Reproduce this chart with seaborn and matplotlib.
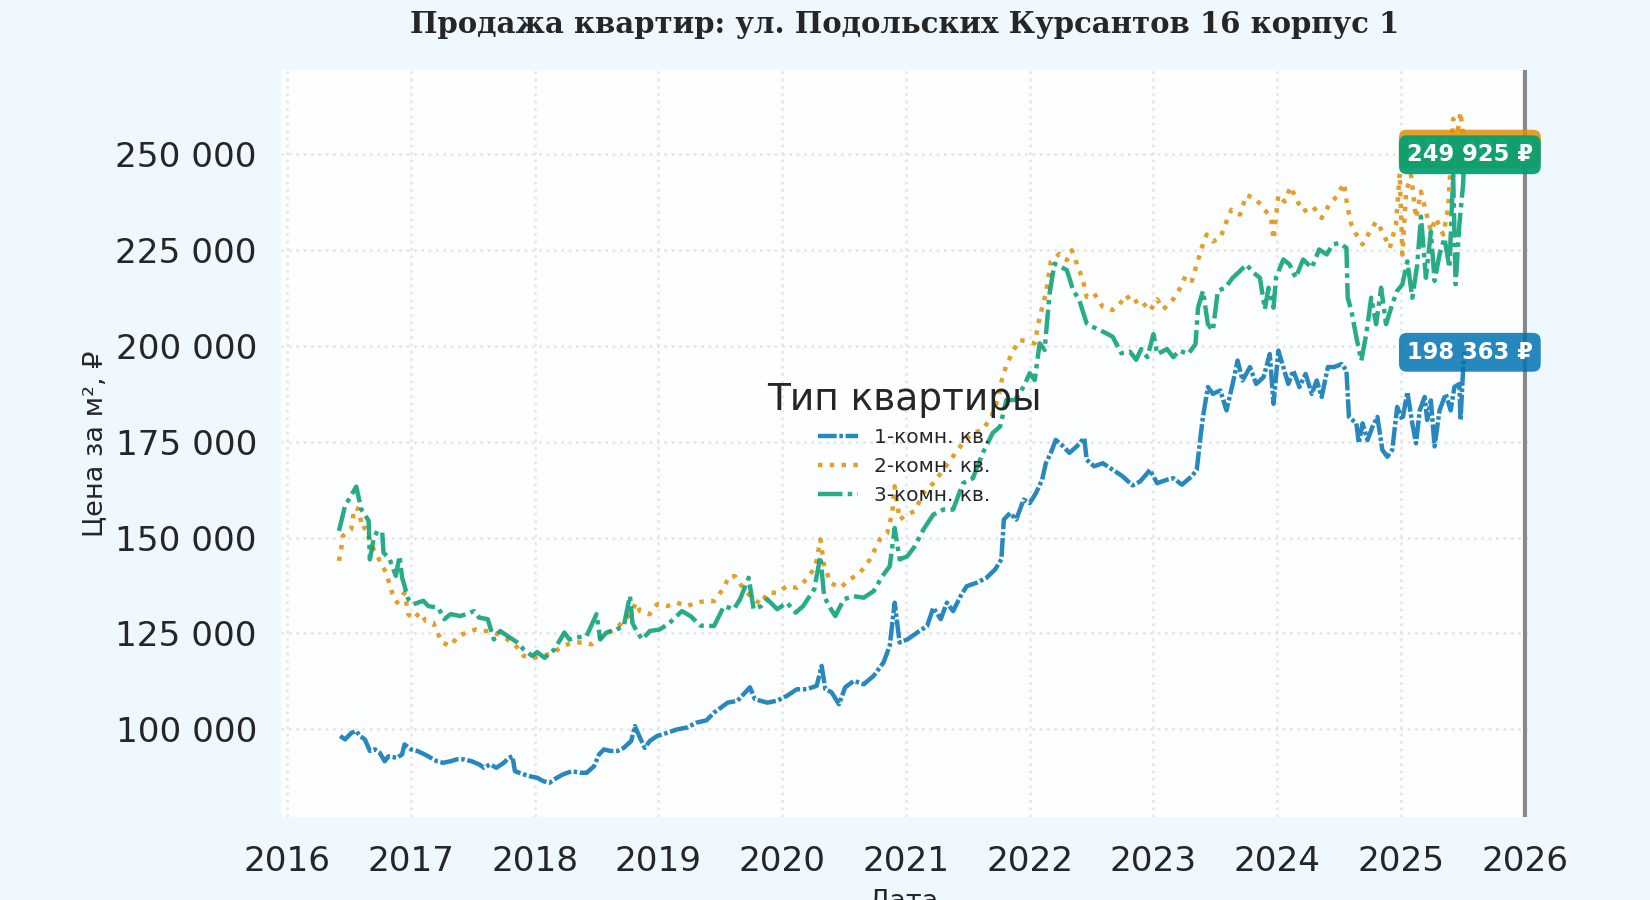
import numpy as np
import pandas as pd
import matplotlib
matplotlib.use("Agg")
import matplotlib.pyplot as plt
import matplotlib.dates as mdates
from matplotlib.ticker import FuncFormatter, MultipleLocator
import seaborn as sns

# ---------------- data (decimal year, price per m2) ----------------
types = ["1-комн. кв.", "2-комн. кв.", "3-комн. кв."]

t_1k = [2016.43, 2016.47, 2016.52, 2016.56, 2016.59, 2016.63, 2016.67, 2016.71, 2016.75, 2016.79,
        2016.82, 2016.89, 2016.93, 2016.95, 2017.00, 2017.05, 2017.11, 2017.16, 2017.21, 2017.26,
        2017.32, 2017.37, 2017.43, 2017.49, 2017.55, 2017.59, 2017.64, 2017.69, 2017.75, 2017.79,
        2017.82, 2017.84, 2017.91, 2017.96, 2018.02, 2018.07, 2018.12, 2018.18, 2018.23, 2018.30,
        2018.37, 2018.42, 2018.48, 2018.52, 2018.56, 2018.61, 2018.67, 2018.72, 2018.78, 2018.81,
        2018.85, 2018.89, 2018.93, 2018.99, 2019.07, 2019.15, 2019.23, 2019.31, 2019.39, 2019.45,
        2019.56, 2019.64, 2019.74, 2019.78, 2019.88, 2019.96, 2020.04, 2020.12, 2020.20, 2020.28,
        2020.32, 2020.35, 2020.40, 2020.46, 2020.51, 2020.58, 2020.66, 2020.74, 2020.82, 2020.87,
        2020.91, 2020.95, 2021.01, 2021.09, 2021.17, 2021.22, 2021.28, 2021.33, 2021.38, 2021.44,
        2021.49, 2021.57, 2021.65, 2021.72, 2021.77, 2021.79, 2021.84, 2021.89, 2021.95, 2022.00,
        2022.05, 2022.10, 2022.13, 2022.17, 2022.21, 2022.27, 2022.32, 2022.38, 2022.44, 2022.46,
        2022.52, 2022.59, 2022.67, 2022.75, 2022.83, 2022.89, 2022.95, 2022.97, 2023.03, 2023.11,
        2023.16, 2023.23, 2023.31, 2023.35, 2023.38, 2023.40, 2023.44, 2023.48, 2023.54, 2023.59,
        2023.64, 2023.68, 2023.72, 2023.78, 2023.83, 2023.89, 2023.94, 2023.97, 2024.01, 2024.05,
        2024.09, 2024.13, 2024.18, 2024.23, 2024.28, 2024.32, 2024.36, 2024.41, 2024.46, 2024.52,
        2024.56, 2024.58, 2024.64, 2024.66, 2024.69, 2024.73, 2024.77, 2024.81, 2024.85, 2024.89,
        2024.93, 2024.97, 2025.01, 2025.05, 2025.09, 2025.12, 2025.15, 2025.19, 2025.21, 2025.24,
        2025.27, 2025.31, 2025.36, 2025.40, 2025.43, 2025.47, 2025.48, 2025.50, 2025.51]
p_1k = [98200, 97300, 99000, 99500, 98200, 97300, 94300, 94700, 93800, 91600,
        92900, 92500, 93400, 96000, 94700, 94300, 93400, 92500, 91600, 91200,
        91600, 92100, 92100, 91600, 90800, 89900, 90800, 89900, 91200, 92500,
        92900, 89000, 88200, 87700, 87300, 86400, 86000, 87300, 88200, 89000,
        88600, 88600, 90300, 93400, 94700, 94300, 94300, 95100, 96900, 100800,
        97800, 95100, 96900, 98200, 99000, 99900, 100400, 101700, 102300, 104300,
        106900, 107400, 110900, 107800, 106900, 107400, 108700, 110400, 110400, 111300,
        116500, 110400, 109600, 106500, 110900, 112600, 111700, 113900, 117400, 121700,
        133000, 122600, 123400, 125200, 126900, 131700, 128700, 133000, 130800, 134700,
        137300, 138200, 139500, 141700, 144300, 154700, 156400, 154700, 159900, 159000,
        161600, 165100, 169400, 172100, 175500, 173800, 172100, 173800, 176000, 170300,
        168600, 169400, 167700, 166000, 163600, 164600, 166800, 167700, 164200, 165100,
        165500, 163800, 166000, 167700, 176300, 181500, 189300, 187500, 188400, 183200,
        190100, 196200, 191000, 194500, 190100, 191900, 197900, 184900, 198800, 194500,
        190100, 193600, 189300, 192700, 187500, 191000, 186700, 194500, 194500, 195300,
        193600, 181500, 179800, 174600, 179800, 175400, 178900, 181500, 172900, 171100,
        172900, 184100, 180700, 188000, 179800, 174600, 183200, 186700, 180700, 185800,
        173800, 183200, 187500, 183200, 189300, 190100, 180700, 193600, 198363]

t_2k = [2016.42, 2016.44, 2016.45, 2016.52, 2016.53, 2016.55, 2016.58, 2016.61, 2016.63, 2016.68,
        2016.75, 2016.80, 2016.85, 2016.89, 2016.95, 2016.98, 2017.02, 2017.07, 2017.12, 2017.18,
        2017.25, 2017.32, 2017.38, 2017.45, 2017.52, 2017.57, 2017.64, 2017.71, 2017.78, 2017.86,
        2017.91, 2017.99, 2018.07, 2018.15, 2018.23, 2018.31, 2018.39, 2018.46, 2018.53, 2018.62,
        2018.69, 2018.77, 2018.82, 2018.85, 2018.93, 2018.99, 2019.07, 2019.15, 2019.23, 2019.31,
        2019.39, 2019.45, 2019.53, 2019.57, 2019.62, 2019.69, 2019.77, 2019.83, 2019.88, 2019.96,
        2020.04, 2020.12, 2020.20, 2020.27, 2020.31, 2020.34, 2020.39, 2020.47, 2020.55, 2020.63,
        2020.71, 2020.79, 2020.85, 2020.89, 2020.91, 2020.95, 2021.01, 2021.07, 2021.14, 2021.22,
        2021.30, 2021.38, 2021.46, 2021.54, 2021.62, 2021.69, 2021.74, 2021.77, 2021.81, 2021.87,
        2021.92, 2021.99, 2022.04, 2022.08, 2022.13, 2022.17, 2022.24, 2022.30, 2022.34, 2022.38,
        2022.43, 2022.46, 2022.52, 2022.59, 2022.67, 2022.72, 2022.78, 2022.83, 2022.89, 2022.97,
        2023.03, 2023.08, 2023.16, 2023.21, 2023.26, 2023.31, 2023.35, 2023.39, 2023.43, 2023.48,
        2023.54, 2023.59, 2023.63, 2023.70, 2023.75, 2023.82, 2023.89, 2023.95, 2023.97, 2024.01,
        2024.06, 2024.11, 2024.15, 2024.21, 2024.29, 2024.36, 2024.42, 2024.48, 2024.54, 2024.57,
        2024.60, 2024.64, 2024.69, 2024.75, 2024.80, 2024.85, 2024.91, 2024.96, 2024.99, 2025.01,
        2025.04, 2025.08, 2025.12, 2025.16, 2025.20, 2025.24, 2025.28, 2025.34, 2025.38, 2025.42,
        2025.46, 2025.48, 2025.50, 2025.51]
p_2k = [143900, 147400, 150400, 152200, 154800, 157800, 157400, 152200, 152600, 148300,
        143900, 140900, 135600, 133000, 135600, 130000, 128700, 130400, 128200, 127800,
        122600, 121700, 124300, 125200, 126000, 125600, 125600, 124700, 123400, 121300,
        119100, 118600, 119100, 120000, 121700, 122600, 122600, 122100, 123900, 125600,
        127300, 130000, 133000, 130800, 130000, 132600, 132100, 133000, 132100, 133000,
        133500, 133400, 136900, 139900, 139900, 136500, 133900, 132600, 135600, 135600,
        137300, 136900, 139100, 142500, 149500, 143000, 138200, 136900, 139100, 140800,
        144300, 149500, 151200, 156400, 163400, 154700, 156000, 156900, 161600, 164200,
        167700, 171200, 174700, 177300, 178100, 181600, 185900, 190700, 195000, 199000,
        201600, 201100, 200700, 207600, 213700, 222000, 224100, 222400, 225000, 221500,
        217200, 212800, 213700, 210200, 209400, 210700, 213300, 211100, 212200, 209200,
        212200, 209600, 212200, 214800, 218300, 217000, 221300, 225600, 229100, 227300,
        228200, 232500, 235600, 234300, 239400, 238600, 236000, 233400, 227800, 239400,
        237700, 241600, 238600, 235100, 236400, 233400, 236900, 239000, 242500, 236000,
        231700, 229100, 226500, 229900, 232500, 229900, 225600, 231700, 245100, 223900,
        240300, 244600, 233400, 240300, 235100, 229900, 233400, 229100, 236000, 259300,
        256700, 261100, 255000, 251400]

t_3k = [2016.42, 2016.47, 2016.51, 2016.56, 2016.60, 2016.66, 2016.67, 2016.70, 2016.73, 2016.77,
        2016.78, 2016.83, 2016.88, 2016.91, 2016.93, 2016.95, 2016.98, 2017.02, 2017.10, 2017.14,
        2017.22, 2017.27, 2017.32, 2017.40, 2017.51, 2017.55, 2017.62, 2017.67, 2017.72, 2017.78,
        2017.86, 2017.91, 2017.98, 2018.02, 2018.08, 2018.16, 2018.24, 2018.28, 2018.34, 2018.42,
        2018.50, 2018.53, 2018.58, 2018.66, 2018.72, 2018.77, 2018.79, 2018.83, 2018.87, 2018.93,
        2019.01, 2019.09, 2019.19, 2019.26, 2019.34, 2019.45, 2019.53, 2019.61, 2019.66, 2019.73,
        2019.77, 2019.83, 2019.88, 2019.96, 2020.04, 2020.11, 2020.17, 2020.26, 2020.31, 2020.34,
        2020.38, 2020.43, 2020.50, 2020.58, 2020.66, 2020.74, 2020.81, 2020.87, 2020.91, 2020.95,
        2021.01, 2021.07, 2021.14, 2021.22, 2021.30, 2021.38, 2021.46, 2021.54, 2021.62, 2021.70,
        2021.76, 2021.81, 2021.88, 2021.95, 2022.00, 2022.04, 2022.08, 2022.12, 2022.16, 2022.20,
        2022.25, 2022.30, 2022.35, 2022.40, 2022.46, 2022.51, 2022.56, 2022.62, 2022.67, 2022.74,
        2022.81, 2022.86, 2022.90, 2022.95, 2023.00, 2023.03, 2023.11, 2023.16, 2023.21, 2023.28,
        2023.34, 2023.36, 2023.40, 2023.44, 2023.48, 2023.52, 2023.58, 2023.64, 2023.70, 2023.75,
        2023.81, 2023.86, 2023.90, 2023.93, 2023.97, 2023.99, 2024.05, 2024.10, 2024.15, 2024.21,
        2024.28, 2024.34, 2024.40, 2024.45, 2024.50, 2024.56, 2024.57, 2024.60, 2024.64, 2024.68,
        2024.72, 2024.76, 2024.80, 2024.84, 2024.88, 2024.93, 2024.97, 2025.01, 2025.05, 2025.09,
        2025.13, 2025.16, 2025.20, 2025.24, 2025.27, 2025.31, 2025.35, 2025.39, 2025.42, 2025.44,
        2025.47, 2025.50, 2025.51]
p_3k = [151750, 158300, 160500, 163300, 157400, 154400, 144300, 149600, 151700, 151300,
        146100, 144300, 140000, 145200, 139600, 137400, 133900, 132600, 133500, 132100,
        131700, 128700, 130000, 129500, 130800, 129100, 128700, 123400, 125600, 124300,
        122600, 120800, 119100, 120100, 118600, 120800, 125200, 123400, 123900, 124300,
        130000, 123400, 125200, 126000, 126900, 134800, 127700, 125200, 123400, 125600,
        126000, 127700, 130800, 129500, 127000, 126900, 132100, 131300, 133900, 139500,
        131300, 132100, 133900, 131300, 133000, 130400, 132100, 136500, 145100, 134700,
        132100, 129500, 133900, 134700, 134300, 136000, 139900, 142500, 152500, 144300,
        145100, 147700, 152100, 156000, 157300, 157300, 164200, 165500, 172100, 177300,
        179000, 185900, 185900, 189400, 192900, 191100, 200700, 199000, 213700, 221500,
        220700, 219800, 214600, 212000, 205900, 205000, 204200, 203300, 202400, 198100,
        198500, 196400, 199200, 197100, 203100, 197900, 199200, 197100, 198800, 197900,
        200500, 210000, 214400, 205700, 204000, 214400, 215200, 217800, 219600, 221300,
        219100, 217800, 209600, 215200, 210000, 217800, 222600, 221300, 217800, 222600,
        220400, 225200, 223900, 226500, 226900, 225600, 212600, 209200, 202300, 196200,
        203100, 212600, 205700, 215200, 205700, 210900, 214400, 216100, 222100, 212600,
        221300, 233800, 217800, 229900, 217000, 223900, 228200, 220400, 244600, 216100,
        231700, 242000, 249925]

colors = ["#0173b2", "#de8f05", "#029e73"]

title_text = "Продажа квартир: ул. Подольских Курсантов 16 корпус 1"
x_label = "Дата"
y_label = "Цена за м², ₽"
legend_title = "Тип квартиры"


def to_date(y):
    yr = int(y)
    return pd.Timestamp(yr, 1, 1) + pd.Timedelta(days=(y - yr) * 365.25)


frames = []
for name, tt, pp in zip(types, [t_1k, t_2k, t_3k], [p_1k, p_2k, p_3k]):
    frames.append(pd.DataFrame({"date": [to_date(v) for v in tt], "price": pp, "type": name}))
df = pd.concat(frames, ignore_index=True)

# ---------------- style ----------------
sns.set_theme(style="white")
plt.rcParams["font.family"] = ["DejaVu Sans"]
plt.rcParams["text.color"] = "#262626"
plt.rcParams["axes.labelcolor"] = "#262626"
plt.rcParams["xtick.color"] = "#262626"
plt.rcParams["ytick.color"] = "#262626"

fig, ax = plt.subplots(figsize=(16.5, 9), dpi=100)
fig.patch.set_facecolor("#f0f8ff")
ax.set_facecolor("#fdfeff")
fig.subplots_adjust(left=0.170, right=0.926, top=0.922, bottom=0.092)

palette = dict(zip(types, colors))
dashes = {types[0]: (4.2, 0.6, 0.8, 0.6),
          types[1]: (1, 1.65),
          types[2]: (5.5, 1.2, 1.0, 1.2)}

sns.lineplot(data=df, x="date", y="price", hue="type", style="type",
             hue_order=types, style_order=types, palette=palette, dashes=dashes,
             estimator=None, linewidth=3.2, alpha=0.85, ax=ax)

# labels of last values
alphas = [0.85, 0.85, 0.93]
for name, tt, pp, c, a in zip(types, [t_1k, t_2k, t_3k], [p_1k, p_2k, p_3k], colors, alphas):
    txt = f"{pp[-1]:,.0f} ₽".replace(",", " ")
    ax.annotate(txt, xy=(to_date(tt[-1]), pp[-1]), xytext=(4, 0), textcoords="offset points",
                ha="center", va="center", color="white", fontsize=16.3, fontweight="bold",
                bbox=dict(boxstyle="round,pad=0.35", fc=c, ec="none", alpha=a), zorder=5)

# axes
ax.set_xlim(pd.Timestamp("2015-12-13"), pd.Timestamp("2026-01-10"))
ax.set_ylim(77000, 272000)
ax.axvline(pd.Timestamp("2026-01-01"), color="#888888", linewidth=3, zorder=4)
ax.xaxis.set_major_locator(mdates.YearLocator())
ax.xaxis.set_major_formatter(mdates.DateFormatter("%Y"))
ax.yaxis.set_major_locator(MultipleLocator(25000))
ax.yaxis.set_major_formatter(FuncFormatter(lambda v, p: f"{v:,.0f}".replace(",", " ")))
ax.tick_params(axis="both", length=0, labelsize=24.7)
ax.tick_params(axis="x", pad=20)
ax.tick_params(axis="y", pad=17)

ax.grid(True, linestyle=":", color="#e2e2e2", linewidth=2, alpha=0.8)
for s in ["left", "top", "bottom", "right"]:
    ax.spines[s].set_visible(False)

ax.set_xlabel(x_label, fontsize=19.5, labelpad=7)
ax.set_ylabel(y_label, fontsize=19.5, labelpad=5)
ax.set_title(title_text, fontfamily="DejaVu Serif", fontweight="bold", fontsize=21, pad=27)

sns.move_legend(ax, "center", title=legend_title, frameon=False,
                fontsize=14.5, title_fontsize=27)

fig.savefig("out.png", dpi=100, facecolor=fig.get_facecolor())
